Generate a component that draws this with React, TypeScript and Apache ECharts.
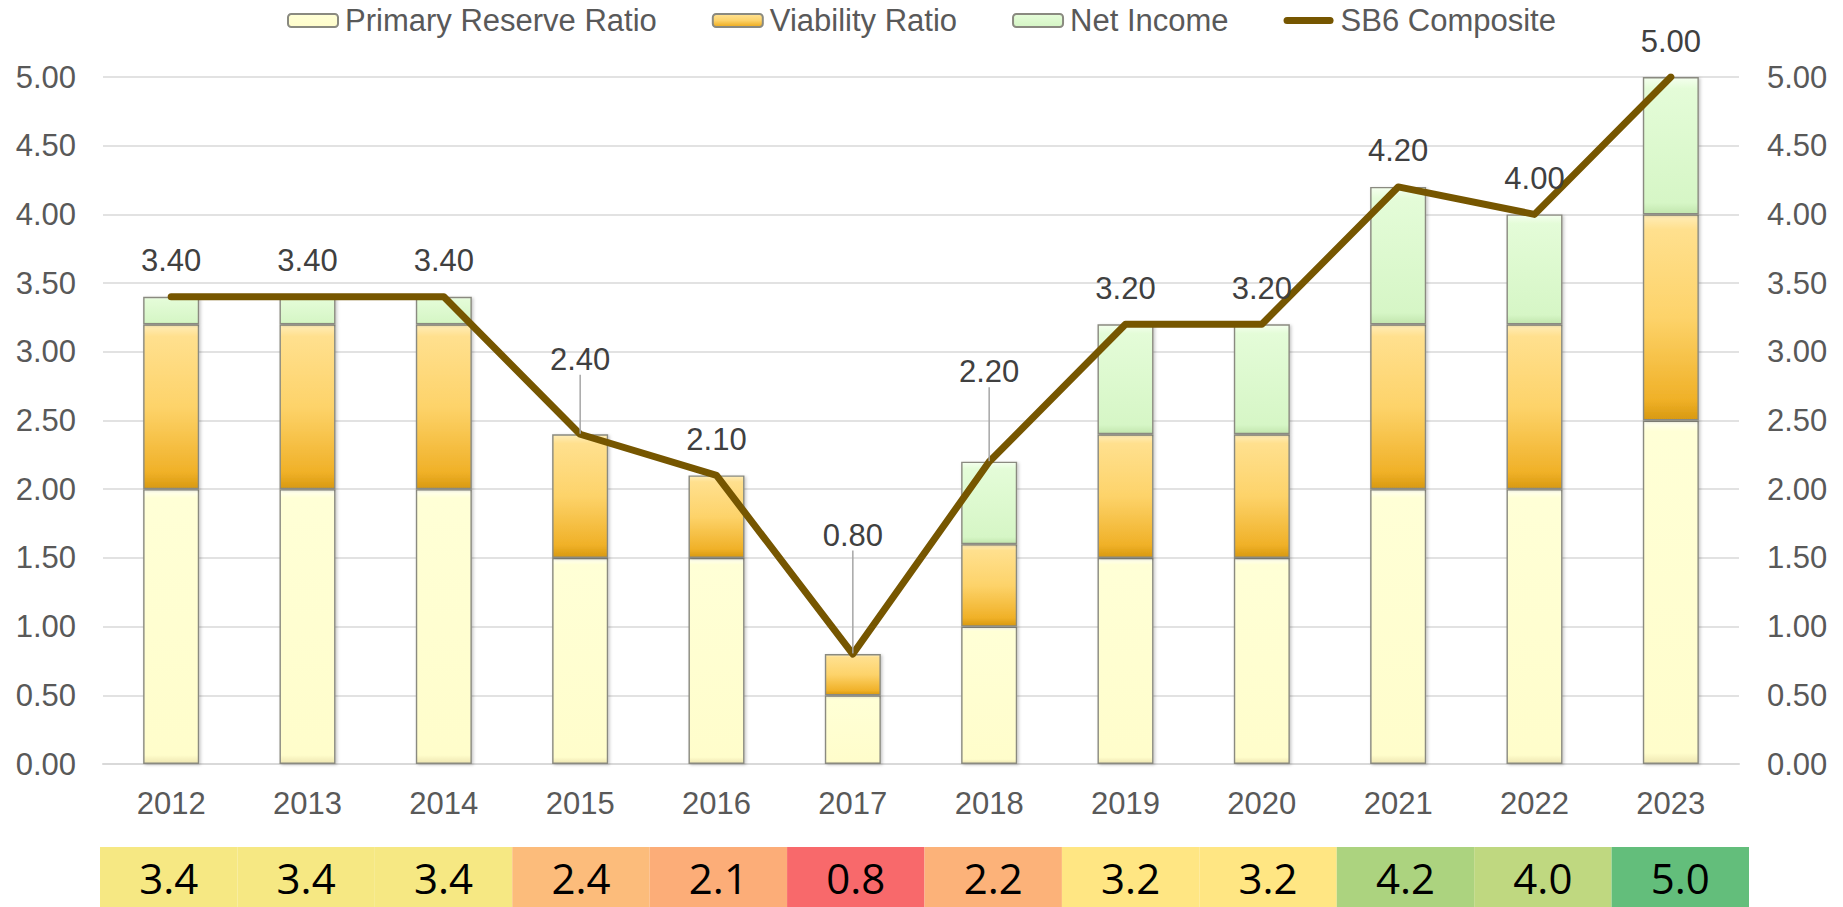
import React, { useEffect, useRef } from "react";
import * as echarts from "echarts";

// ---------- data ----------
const years = ["2012", "2013", "2014", "2015", "2016", "2017", "2018", "2019", "2020", "2021", "2022", "2023"];
const primaryReserve = [2.0, 2.0, 2.0, 1.5, 1.5, 0.5, 1.0, 1.5, 1.5, 2.0, 2.0, 2.5];
const viability = [1.2, 1.2, 1.2, 0.9, 0.6, 0.3, 0.6, 0.9, 0.9, 1.2, 1.2, 1.5];
const netIncome = [0.2, 0.2, 0.2, 0, 0, 0, 0.6, 0.8, 0.8, 1.0, 0.8, 1.0];
const composite = [3.4, 3.4, 3.4, 2.4, 2.1, 0.8, 2.2, 3.2, 3.2, 4.2, 4.0, 5.0];
const seriesNames = ["Primary Reserve Ratio", "Viability Ratio", "Net Income", "SB6 Composite"];
const yMin = 0;
const yMax = 5;
const yStep = 0.5;

// ---------- styling ----------
const labelLift: Record<string, number> = { "2015": -39, "2017": -83, "2018": -54 };
const AXIS_FONT = "'Liberation Sans', Arial, sans-serif";
const LINE_COLOR = "#765600";

function mix(a: number[], b: number[], t: number) {
  const c = a.map((v, i) => Math.round(v + (b[i] - v) * t));
  return `rgb(${c[0]},${c[1]},${c[2]})`;
}
// Excel-like three colour scale (red / yellow at median / green)
function scaleColor(v: number, list: number[]) {
  const sorted = [...list].sort((x, y) => x - y);
  const n = sorted.length;
  const mid = n % 2 ? sorted[(n - 1) / 2] : (sorted[n / 2 - 1] + sorted[n / 2]) / 2;
  const lo = sorted[0];
  const hi = sorted[n - 1];
  const red = [248, 105, 107];
  const yel = [255, 235, 132];
  const grn = [99, 190, 123];
  if (v <= mid) return mix(yel, red, (mid - v) / (mid - lo || 1));
  return mix(yel, grn, (v - mid) / (hi - mid || 1));
}

const G = echarts.graphic.LinearGradient;
const primaryFill = new G(0, 0, 0, 1, [
  { offset: 0, color: "#FFFFF2" },
  { offset: 0.03, color: "#FFFFD6" },
  { offset: 0.97, color: "#FFFDCB" },
  { offset: 1, color: "#EEE6B2" },
]);
const viabilityFill = new G(0, 0, 0, 1, [
  { offset: 0, color: "#FFEDB8" },
  { offset: 0.07, color: "#FFE08E" },
  { offset: 0.5, color: "#FDD36A" },
  { offset: 0.9, color: "#F0B128" },
  { offset: 1, color: "#D89910" },
]);
const netFill = new G(0, 0, 0, 1, [
  { offset: 0, color: "#F4FFEE" },
  { offset: 0.08, color: "#E4FCD8" },
  { offset: 0.92, color: "#D6F6C6" },
  { offset: 1, color: "#C2E6AE" },
]);

const barCommon = {
  type: "bar",
  stack: "total",
  barWidth: 56,
  xAxisIndex: 0,
  yAxisIndex: 0,
};
const barBorder = {
  borderColor: "#8a8a80",
  borderWidth: 1.4,
  shadowColor: "rgba(0,0,0,0.22)",
  shadowBlur: 3,
  shadowOffsetX: 1.5,
  shadowOffsetY: 1,
};

export default function App() {
  const ref = useRef<HTMLDivElement>(null);
  useEffect(() => {
    if (!ref.current) return;
    const chart = echarts.init(ref.current, null, { renderer: "svg" });
    const lineData = composite.map((v, i) =>
      labelLift[years[i]] !== undefined
        ? { value: v, labelLine: { show: true } }
        : { value: v }
    );
    const option: any = {
      animation: false,
      backgroundColor: "#ffffff",
      legend: {
        top: 0,
        left: 282,
        itemWidth: 50,
        itemHeight: 13,
        itemGap: 55,
        symbolKeepAspect: false,
        textStyle: { fontFamily: AXIS_FONT, fontSize: 31, color: "#595959", padding: [0, 0, 0, 2] },
        data: [
          { name: seriesNames[0] },
          { name: seriesNames[1] },
          { name: seriesNames[2] },
          {
            name: seriesNames[3],
            icon: "path://M0,0 M3.5,3 L46.5,3 A3.5,3.5 0 0 1 46.5,10 L3.5,10 A3.5,3.5 0 0 1 3.5,3 Z M50,13",
            itemStyle: { color: LINE_COLOR, borderWidth: 0 },
          },
        ],
      },
      grid: [
        { left: 103, right: 104, top: 77, bottom: 143 },
        { left: 100, right: 94, top: 847, height: 60 },
      ],
      xAxis: [
        {
          type: "category",
          gridIndex: 0,
          data: years,
          axisTick: { show: false },
          axisLine: { show: true, lineStyle: { color: "#d9d9d9", width: 2 } },
          axisLabel: { fontFamily: AXIS_FONT, fontSize: 31, color: "#595959", margin: 24 },
        },
        {
          type: "category",
          gridIndex: 1,
          data: years,
          show: false,
        },
      ],
      yAxis: [
        {
          type: "value",
          gridIndex: 0,
          min: yMin,
          max: yMax,
          interval: yStep,
          axisLine: { show: false },
          axisTick: { show: false },
          splitLine: { lineStyle: { color: "#d9d9d9", width: 1.5 } },
          axisLabel: {
            fontFamily: AXIS_FONT,
            fontSize: 31,
            color: "#595959",
            margin: 27,
            formatter: (v: number) => v.toFixed(2),
          },
        },
        {
          type: "value",
          gridIndex: 0,
          position: "right",
          min: yMin,
          max: yMax,
          interval: yStep,
          axisLine: { show: false },
          axisTick: { show: false },
          splitLine: { show: false },
          axisLabel: {
            fontFamily: AXIS_FONT,
            fontSize: 31,
            color: "#595959",
            margin: 28,
            formatter: (v: number) => v.toFixed(2),
          },
        },
        { type: "value", gridIndex: 1, min: 0, max: 1, show: false },
      ],
      series: [
        {
          ...barCommon,
          name: seriesNames[0],
          data: primaryReserve,
          itemStyle: { color: primaryFill, ...barBorder },
        },
        {
          ...barCommon,
          name: seriesNames[1],
          data: viability,
          itemStyle: { color: viabilityFill, ...barBorder },
        },
        {
          ...barCommon,
          name: seriesNames[2],
          data: netIncome,
          itemStyle: { color: netFill, ...barBorder },
        },
        {
          type: "line",
          name: seriesNames[3],
          xAxisIndex: 0,
          yAxisIndex: 0,
          data: lineData,
          symbol: "circle",
          symbolSize: 1,
          showSymbol: true,
          z: 5,
          itemStyle: { color: LINE_COLOR },
          lineStyle: { color: LINE_COLOR, width: 7, cap: "round", join: "round" },
          label: {
            show: true,
            position: "top",
            distance: 20,
            fontFamily: AXIS_FONT,
            fontSize: 31,
            color: "#404040",
            formatter: (p: any) => Number(p.value).toFixed(2),
          },
          labelLine: { show: false, lineStyle: { color: "#a6a6a6", width: 1.5 } },
          labelLayout: (p: any) => {
            const d = labelLift[years[p.dataIndex]];
            return d !== undefined ? { dy: d } : {};
          },
        },
        {
          type: "bar",
          name: "table",
          xAxisIndex: 1,
          yAxisIndex: 2,
          barWidth: "100%",
          silent: true,
          data: composite.map((v) => ({ value: 1, itemStyle: { color: scaleColor(v, composite) } })),
          label: {
            show: true,
            position: "inside",
            fontFamily: "'Open Sans', sans-serif",
            fontSize: 42,
            color: "#000000",
            formatter: (p: any) => composite[p.dataIndex].toFixed(1),
          },
        },
      ],
    };
    chart.setOption(option);
    return () => chart.dispose();
  }, []);
  return (
    <div
      ref={ref}
      style={{ position: "fixed", left: 0, top: 0, width: 1843, height: 907, background: "#fff" }}
    />
  );
}
